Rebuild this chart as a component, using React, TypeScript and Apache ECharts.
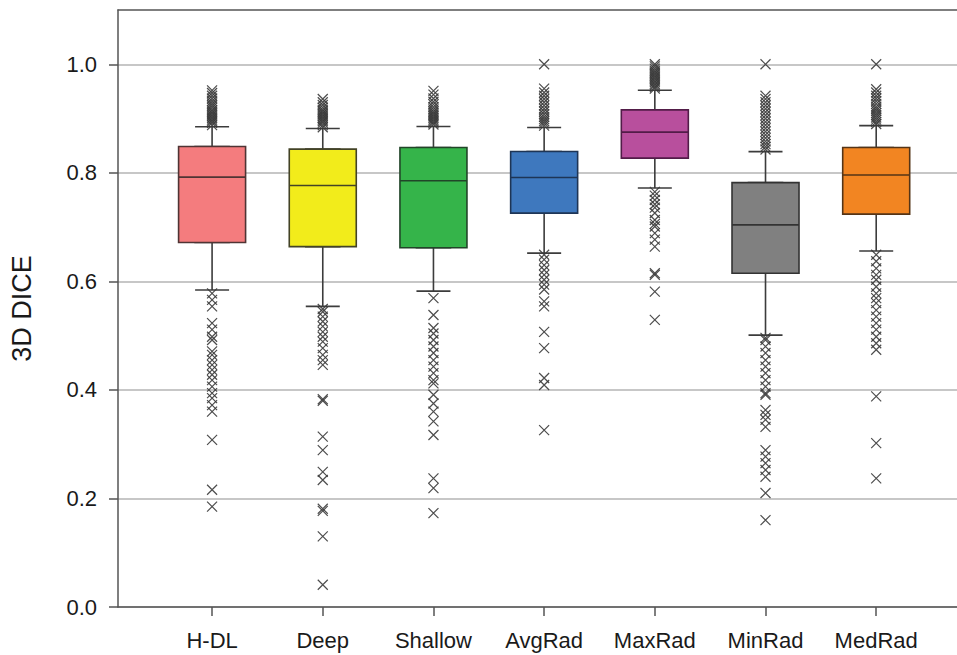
import React, { useEffect, useRef } from "react";
import * as echarts from "echarts";

const categories = ["H-DL", "Deep", "Shallow", "AvgRad", "MaxRad", "MinRad", "MedRad"];
const whiskerLow = [0.584, 0.554, 0.582, 0.652, 0.772, 0.501, 0.656];
const q1 = [0.6715, 0.664, 0.662, 0.7257, 0.827, 0.615, 0.7238];
const median = [0.792, 0.7766, 0.7853, 0.7914, 0.875, 0.704, 0.796];
const q3 = [0.8485, 0.8437, 0.8467, 0.8393, 0.916, 0.782, 0.8467];
const whiskerHigh = [0.885, 0.8817, 0.8854, 0.8835, 0.952, 0.839, 0.887];

const boxColors = ["#F47C7E", "#F2EC1B", "#35B44A", "#3E78BE", "#B84F9D", "#808080", "#F28522"];
const edgeColors = ["#4f3434", "#434326", "#214528", "#1e3556", "#521c48", "#333333", "#553416"];

const outliersHDL = [
  0.888, 0.892, 0.895, 0.898, 0.901, 0.904, 0.907, 0.91, 0.913, 0.916, 0.92, 0.924, 0.928, 0.932, 0.937, 0.942, 0.947, 0.952,
  0.578, 0.566, 0.554, 0.523, 0.511, 0.498, 0.492, 0.471, 0.4645, 0.455, 0.446, 0.437, 0.428, 0.418, 0.406, 0.394, 0.385,
  0.372, 0.36, 0.308, 0.216, 0.185,
];
const outliersDeep = [
  0.884, 0.888, 0.892, 0.895, 0.898, 0.901, 0.904, 0.907, 0.91, 0.913, 0.916, 0.92, 0.925, 0.93, 0.936,
  0.549, 0.544, 0.535, 0.526, 0.517, 0.507, 0.498, 0.489, 0.477, 0.4645, 0.455, 0.446, 0.383, 0.38, 0.314, 0.289, 0.249,
  0.234, 0.181, 0.177, 0.13, 0.041,
];
const outliersShallow = [
  0.889, 0.892, 0.895, 0.898, 0.901, 0.904, 0.907, 0.91, 0.913, 0.917, 0.921, 0.926, 0.931, 0.937, 0.944, 0.951,
  0.569, 0.538, 0.514, 0.504, 0.492, 0.48, 0.468, 0.455, 0.443, 0.431, 0.418, 0.412, 0.391, 0.375, 0.36, 0.342, 0.317,
  0.237, 0.219, 0.173,
];
const outliersAvgRad = [
  0.887, 0.891, 0.895, 0.899, 0.903, 0.908, 0.913, 0.918, 0.924, 0.93, 0.936, 0.942, 0.948, 0.955, 1.0,
  0.649, 0.64, 0.63, 0.621, 0.612, 0.603, 0.594, 0.585, 0.563, 0.554, 0.507, 0.477, 0.422, 0.409, 0.326,
];
const outliersMaxRad = [
  0.955, 0.958, 0.961, 0.964, 0.967, 0.97, 0.973, 0.976, 0.979, 0.982, 0.985, 0.988, 0.992, 0.996, 1.0,
  0.765, 0.758, 0.75, 0.742, 0.736, 0.726, 0.713, 0.706, 0.701, 0.689, 0.677, 0.664, 0.615, 0.612, 0.581, 0.529,
];
const outliersMinRad = [
  0.843, 0.848, 0.853, 0.858, 0.864, 0.87, 0.876, 0.882, 0.888, 0.894, 0.9, 0.906, 0.912, 0.918, 0.924, 0.93, 0.936, 0.942, 1.0,
  0.496, 0.492, 0.48, 0.468, 0.455, 0.443, 0.431, 0.418, 0.406, 0.394, 0.391, 0.363, 0.354, 0.345, 0.332, 0.289, 0.277,
  0.265, 0.2525, 0.24, 0.21, 0.16,
];
const outliersMedRad = [
  0.89, 0.894, 0.898, 0.902, 0.906, 0.91, 0.914, 0.918, 0.922, 0.927, 0.932, 0.937, 0.942, 0.948, 0.954, 1.0,
  0.649, 0.637, 0.624, 0.612, 0.603, 0.59, 0.578, 0.569, 0.56, 0.547, 0.535, 0.523, 0.511, 0.498, 0.486, 0.474,
  0.388, 0.302, 0.237,
];
const outlierLists = [
  outliersHDL, outliersDeep, outliersShallow, outliersAvgRad, outliersMaxRad, outliersMinRad, outliersMedRad,
];

const yTicks = [0, 0.2, 0.4, 0.6, 0.8, 1.0];
const xTicks = [1, 2, 3, 4, 5, 6, 7];

const FONT = "'Liberation Sans', Arial, sans-serif";

export default function App() {
  const ref = useRef<HTMLDivElement>(null);

  useEffect(() => {
    if (!ref.current) return;
    const chart = echarts.init(ref.current, undefined, { renderer: "svg" });

    const whiskerData = categories.map((_, i) => [i + 1, whiskerLow[i], q1[i], median[i], q3[i], whiskerHigh[i]]);
    const boxData = categories.map((_, i) => ({
      value: [i + 1, q1[i], q1[i], median[i], q3[i], q3[i]],
      itemStyle: { color: boxColors[i], borderColor: edgeColors[i] },
    }));
    const scatterData: number[][] = [];
    outlierLists.forEach((list, i) => list.forEach((v) => scatterData.push([i + 1, v])));

    const xMin = 0.15;
    const xMax = 7.73;

    chart.setOption({
      animation: false,
      backgroundColor: "#ffffff",
      grid: { left: 116, top: 10, right: 0, bottom: 48 },
      xAxis: [
        {
          type: "value",
          position: "bottom",
          min: xMin,
          max: xMax,
          splitLine: { show: false },
          axisLine: { show: true, onZero: false, lineStyle: { color: "#555", width: 1.5 } },
          axisTick: { show: true, length: 9, customValues: xTicks, lineStyle: { color: "#555", width: 1.5 } },
          axisLabel: {
            customValues: xTicks,
            formatter: (v: number) => categories[Math.round(v) - 1] ?? "",
            margin: 22,
            fontSize: 22,
            color: "#1a1a1a",
            fontFamily: FONT,
          },
        },
        {
          type: "value",
          position: "top",
          min: xMin,
          max: xMax,
          splitLine: { show: false },
          axisLine: { show: true, onZero: false, lineStyle: { color: "#555", width: 1.5 } },
          axisTick: { show: false },
          axisLabel: { show: false },
        },
      ],
      yAxis: {
        type: "value",
        min: 0,
        max: 1.1,
        interval: 0.2,
        name: "3D DICE",
        nameLocation: "middle",
        nameGap: 83,
        nameTextStyle: { fontSize: 27, color: "#1a1a1a", fontFamily: FONT },
        axisLine: { show: true, lineStyle: { color: "#555", width: 1.5 } },
        axisTick: { show: true, length: 9, customValues: yTicks, lineStyle: { color: "#555", width: 1.5 } },
        axisLabel: {
          customValues: yTicks,
          formatter: (v: number) => v.toFixed(1),
          margin: 21,
          fontSize: 22,
          color: "#1a1a1a",
          fontFamily: FONT,
        },
        splitLine: { show: true, lineStyle: { color: "#b5b5b5", width: 1.5 } },
      },
      series: [
        {
          type: "boxplot",
          xAxisIndex: 0,
          layout: "horizontal",
          boxWidth: [34, 34],
          data: whiskerData,
          itemStyle: { color: "rgba(0,0,0,0)", borderColor: "#3c3c3c", borderWidth: 1.6 },
          emphasis: { disabled: true },
          silent: true,
        },
        {
          type: "scatter",
          xAxisIndex: 0,
          data: scatterData,
          symbol: "path://M0,0L10,10M10,0L0,10",
          symbolSize: 10,
          itemStyle: { color: "rgba(0,0,0,0)", borderColor: "#3a3a3a", borderWidth: 1.2, opacity: 0.9 },
          emphasis: { disabled: true },
          silent: true,
        },
        {
          type: "boxplot",
          xAxisIndex: 1,
          layout: "horizontal",
          boxWidth: [67, 67],
          data: boxData,
          itemStyle: { borderWidth: 1.6 },
          emphasis: { disabled: true },
          silent: true,
        },
      ],
    });

    return () => chart.dispose();
  }, []);

  return (
    <div
      ref={ref}
      style={{ position: "fixed", left: 0, top: 0, width: 957, height: 655, background: "#fff" }}
    />
  );
}
